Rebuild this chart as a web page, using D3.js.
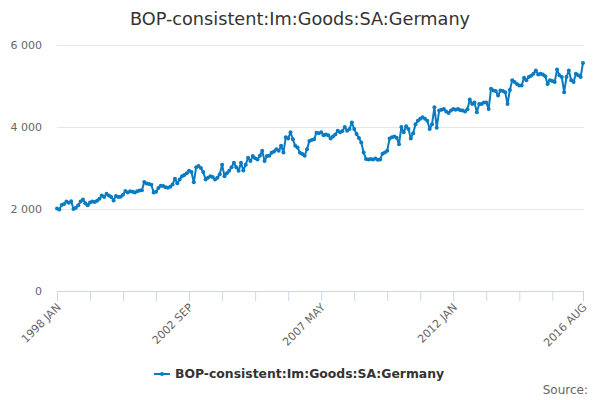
<!DOCTYPE html>
<html>
<head>
<meta charset="utf-8">
<script src="https://cdn.jsdelivr.net/npm/d3@7"></script>
<style>
  body { margin: 0; background: #fff; }
  svg { display: block; font-family: "DejaVu Sans", sans-serif; }
</style>
</head>
<body>
<div id="chart"></div>
<script>
// Monthly values, 1998 JAN .. 2016 AUG
const seriesName = 'BOP-consistent:Im:Goods:SA:Germany';
const startYear = 1998;
const monthNames = ['JAN', 'FEB', 'MAR', 'APR', 'MAY', 'JUN', 'JUL', 'AUG', 'SEP', 'OCT', 'NOV', 'DEC'];

const v1998 = [2010, 1990, 2100, 2120, 2180, 2150, 2190, 2000, 2030, 2090, 2180, 2230];
const v1999 = [2140, 2090, 2160, 2180, 2170, 2200, 2250, 2330, 2290, 2370, 2330, 2290];
const v2000 = [2210, 2320, 2290, 2300, 2350, 2440, 2400, 2430, 2420, 2400, 2430, 2450];
const v2001 = [2460, 2660, 2620, 2610, 2590, 2400, 2420, 2510, 2570, 2560, 2530, 2520];
const v2002 = [2540, 2600, 2740, 2630, 2720, 2800, 2830, 2870, 2930, 2900, 2650, 3020];
const v2003 = [3050, 3000, 2900, 2720, 2760, 2800, 2780, 2720, 2760, 2850, 3080, 2800];
const v2004 = [2870, 2930, 3020, 3130, 3020, 2930, 3130, 2940, 3080, 3250, 3170, 3290];
const v2005 = [3240, 3210, 3300, 3420, 3170, 3290, 3300, 3370, 3400, 3460, 3420, 3540];
const v2006 = [3380, 3750, 3720, 3870, 3700, 3540, 3500, 3370, 3340, 3300, 3460, 3660];
const v2007 = [3680, 3700, 3860, 3850, 3870, 3800, 3820, 3800, 3720, 3770, 3820, 3910];
const v2008 = [3870, 3900, 4000, 3910, 3950, 4110, 3950, 3830, 3730, 3620, 3380, 3220];
const v2009 = [3210, 3220, 3210, 3230, 3200, 3210, 3350, 3380, 3420, 3720, 3750, 3770];
const v2010 = [3740, 3580, 4000, 3870, 4020, 3950, 3720, 3850, 4070, 4150, 4200, 4240];
const v2011 = [4200, 4150, 3950, 4070, 4480, 3980, 4400, 4420, 4440, 4380, 4340, 4400];
const v2012 = [4440, 4420, 4440, 4410, 4400, 4380, 4430, 4670, 4560, 4600, 4360, 4560];
const v2013 = [4560, 4600, 4600, 4440, 4930, 4890, 4880, 4770, 4890, 4880, 4850, 4560];
const v2014 = [4900, 5140, 5100, 5050, 5010, 5010, 5200, 5140, 5220, 5250, 5300, 5380];
const v2015 = [5280, 5300, 5280, 5240, 5050, 5140, 5120, 5100, 5400, 5260, 5220, 4850];
const v2016 = [5220, 5380, 5140, 5100, 5300, 5260, 5220, 5560];

const yTicks = [0, 2000, 4000, 6000];

const values = [].concat(v1998, v1999, v2000, v2001, v2002, v2003, v2004, v2005, v2006,
    v2007, v2008, v2009, v2010, v2011, v2012, v2013, v2014, v2015, v2016);
const labels = values.map((d, i) => `${startYear + Math.floor(i / 12)} ${monthNames[i % 12]}`);
const data = values.map((v, i) => ({ label: labels[i], value: v }));

const width = 600, height = 400;
const margin = { top: 45, right: 16, bottom: 109, left: 57 };

const svg = d3.select('#chart')
    .append('svg')
    .attr('width', width)
    .attr('height', height);

// Title
svg.append('text')
    .attr('x', width / 2)
    .attr('y', 25)
    .attr('text-anchor', 'middle')
    .style('font-size', '17.7px')
    .style('fill', '#333333')
    .text(seriesName);

const x = d3.scalePoint()
    .domain(labels)
    .range([margin.left, width - margin.right - 1]);

const y = d3.scaleLinear()
    .domain([0, 6000])
    .range([height - margin.bottom, margin.top]);

// Grid lines
svg.append('g')
    .selectAll('line')
    .data(yTicks.filter(d => d > 0))
    .enter()
    .append('line')
    .attr('x1', margin.left)
    .attr('x2', width - margin.right)
    .attr('y1', d => Math.round(y(d)) + 0.5)
    .attr('y2', d => Math.round(y(d)) + 0.5)
    .attr('stroke', '#e6e6e6');

// Y labels
const fmt = d => d3.format(',')(d).replace(/,/g, ' ');
svg.append('g')
    .selectAll('text')
    .data(yTicks)
    .enter()
    .append('text')
    .attr('x', margin.left - 15)
    .attr('y', d => y(d) + 4)
    .attr('text-anchor', 'end')
    .style('font-size', '11px')
    .style('fill', '#666666')
    .text(fmt);

// X axis: ticks every 14 months plus the last month
const step = 14;
const tickIdx = d3.range(0, labels.length, step);
if (tickIdx[tickIdx.length - 1] !== labels.length - 1) tickIdx.push(labels.length - 1);
const labelIdx = tickIdx.filter((d, i) => i % 4 === 0 || d === labels.length - 1);

const xAxis = svg.append('g')
    .attr('transform', `translate(0,${height - margin.bottom})`)
    .call(d3.axisBottom(x)
        .tickValues(tickIdx.map(i => labels[i]))
        .tickSize(10)
        .tickSizeOuter(0)
        .tickFormat(d => labelIdx.some(i => labels[i] === d) ? d : ''));

xAxis.select('.domain')
    .attr('stroke', '#ccd6eb')
    .attr('d', `M${margin.left},0.5H${width - margin.right}`);
xAxis.selectAll('.tick line').attr('stroke', '#ccd6eb');
xAxis.selectAll('.tick text')
    .attr('fill', '#666666')
    .style('font-size', '11px')
    .style('font-family', '"DejaVu Sans", sans-serif')
    .attr('text-anchor', 'end')
    .attr('dy', 0)
    .attr('y', 0)
    .attr('transform', 'translate(4,17) rotate(-45)');

// Line + markers
const lineColor = '#0a7bc1';
const line = d3.line()
    .x(d => x(d.label))
    .y(d => y(d.value));

svg.append('path')
    .datum(data)
    .attr('fill', 'none')
    .attr('stroke', lineColor)
    .attr('stroke-width', 2)
    .attr('stroke-linejoin', 'round')
    .attr('d', line);

svg.append('g')
    .selectAll('circle')
    .data(data)
    .enter()
    .append('circle')
    .attr('cx', d => x(d.label))
    .attr('cy', d => y(d.value))
    .attr('r', 2)
    .attr('fill', lineColor);

// Legend
const legend = svg.append('g').attr('transform', 'translate(154,374)');
legend.append('line')
    .attr('x1', 0).attr('x2', 16)
    .attr('y1', 0).attr('y2', 0)
    .attr('stroke', lineColor)
    .attr('stroke-width', 2);
legend.append('circle')
    .attr('cx', 8).attr('cy', 0).attr('r', 2)
    .attr('fill', lineColor);
legend.append('text')
    .attr('x', 21)
    .attr('y', 4)
    .style('font-size', '12.4px')
    .style('font-weight', 'bold')
    .style('fill', '#333333')
    .text(seriesName);

// Credits
svg.append('text')
    .attr('x', 588)
    .attr('y', 394)
    .attr('text-anchor', 'end')
    .style('font-size', '12px')
    .style('fill', '#666666')
    .text('Source:');
</script>
</body>
</html>
